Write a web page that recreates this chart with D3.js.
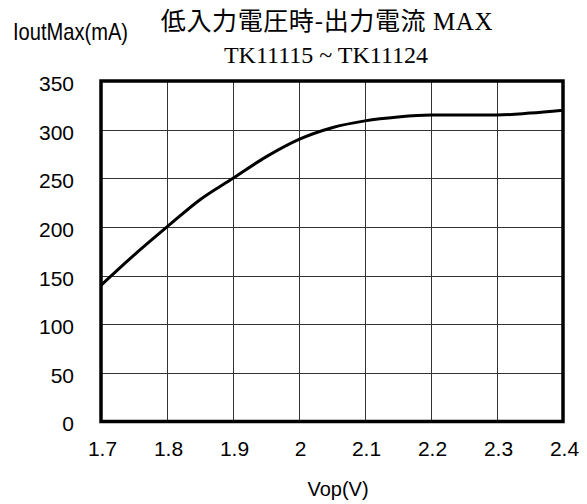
<!DOCTYPE html>
<html>
<head>
<meta charset="utf-8">
<script src="https://cdn.jsdelivr.net/npm/d3@7"></script>
<style>
  body { margin: 0; background: #fff; }
  svg { display: block; }
</style>
</head>
<body>
<svg id="chart" width="587" height="504"></svg>
<script>
// data
const vop = [1.7, 1.75, 1.8, 1.85, 1.9, 1.95, 2.0, 2.05, 2.1, 2.15, 2.2, 2.25, 2.3, 2.35, 2.4];
const ioutMax = [140, 171, 200, 228, 250, 272, 290, 302, 309, 313, 315, 315, 315, 317, 320];
const xTicks = [1.7, 1.8, 1.9, 2.0, 2.1, 2.2, 2.3, 2.4];
const yTicks = [0, 50, 100, 150, 200, 250, 300, 350];

const svg = d3.select("#chart");
const margin = { top: 81, right: 24, bottom: 82.5, left: 101 };
const width = 587, height = 504;

const x = d3.scaleLinear()
  .domain([1.7, 2.4])
  .range([margin.left, width - margin.right]);

const y = d3.scaleLinear()
  .domain([0, 350])
  .range([height - margin.bottom, margin.top]);

const sans = "'Liberation Sans', Arial, sans-serif";
const serif = "'Liberation Serif', 'Times New Roman', serif";

// grid
svg.append("g")
  .attr("stroke", "#333")
  .attr("stroke-width", 1)
  .selectAll("line.v")
  .data(xTicks)
  .join("line")
    .attr("x1", d => Math.round(x(d)) + 0.5)
    .attr("x2", d => Math.round(x(d)) + 0.5)
    .attr("y1", y(0))
    .attr("y2", y(350));

svg.append("g")
  .attr("stroke", "#333")
  .attr("stroke-width", 1)
  .selectAll("line.h")
  .data(yTicks)
  .join("line")
    .attr("x1", x(1.7))
    .attr("x2", x(2.4))
    .attr("y1", d => Math.round(y(d)) + 0.5)
    .attr("y2", d => Math.round(y(d)) + 0.5);

// axes (labels only, styled like the reference)
const xAxis = svg.append("g")
  .attr("transform", `translate(0,${y(0)})`)
  .call(d3.axisBottom(x).tickValues(xTicks).tickFormat(d3.format("")).tickSize(0).tickPadding(19.5));
xAxis.select(".domain").remove();
xAxis.selectAll("text")
  .attr("font-family", sans)
  .attr("font-size", 21)
  .attr("fill", "#000")
  .attr("dx", 1);

const yAxis = svg.append("g")
  .attr("transform", `translate(${x(1.7)},0)`)
  .call(d3.axisLeft(y).tickValues(yTicks).tickSize(0).tickPadding(27));
yAxis.select(".domain").remove();
yAxis.selectAll("text")
  .attr("font-family", sans)
  .attr("font-size", 21)
  .attr("fill", "#000")
  .attr("dy", "0.45em");

// curve
const line = d3.line()
  .x((d, i) => x(vop[i]))
  .y(d => y(d))
  .curve(d3.curveMonotoneX);

svg.append("path")
  .datum(ioutMax)
  .attr("fill", "none")
  .attr("stroke", "#000")
  .attr("stroke-width", 3)
  .attr("stroke-linejoin", "round")
  .attr("d", line);

// frame
svg.append("rect")
  .attr("x", x(1.7))
  .attr("y", y(350))
  .attr("width", x(2.4) - x(1.7))
  .attr("height", y(0) - y(350))
  .attr("fill", "none")
  .attr("stroke", "#000")
  .attr("stroke-width", 3.5);

// titles
const title = svg.append("text")
  .attr("x", 327)
  .attr("y", 30)
  .attr("text-anchor", "middle")
  .attr("font-size", 25)
  .attr("letter-spacing", 0.6)
  .attr("fill", "#000");
title.append("tspan")
  .attr("font-family", "'Noto Sans CJK JP', sans-serif")
  .text("低入力電圧時-出力電流");
title.append("tspan")
  .attr("font-family", serif)
  .text(" MAX");

svg.append("text")
  .attr("x", 326)
  .attr("y", 63)
  .attr("text-anchor", "middle")
  .attr("font-family", serif)
  .attr("font-size", 24)
  .attr("fill", "#000")
  .text("TK11115 ~ TK11124");

svg.append("text")
  .attr("x", 13)
  .attr("y", 40)
  .attr("font-family", sans)
  .attr("font-size", 24)
  .attr("textLength", 115)
  .attr("lengthAdjust", "spacingAndGlyphs")
  .attr("fill", "#000")
  .text("IoutMax(mA)");

svg.append("text")
  .attr("x", 338)
  .attr("y", 496)
  .attr("text-anchor", "middle")
  .attr("font-family", sans)
  .attr("font-size", 20)
  .attr("fill", "#000")
  .text("Vop(V)");
</script>
</body>
</html>
